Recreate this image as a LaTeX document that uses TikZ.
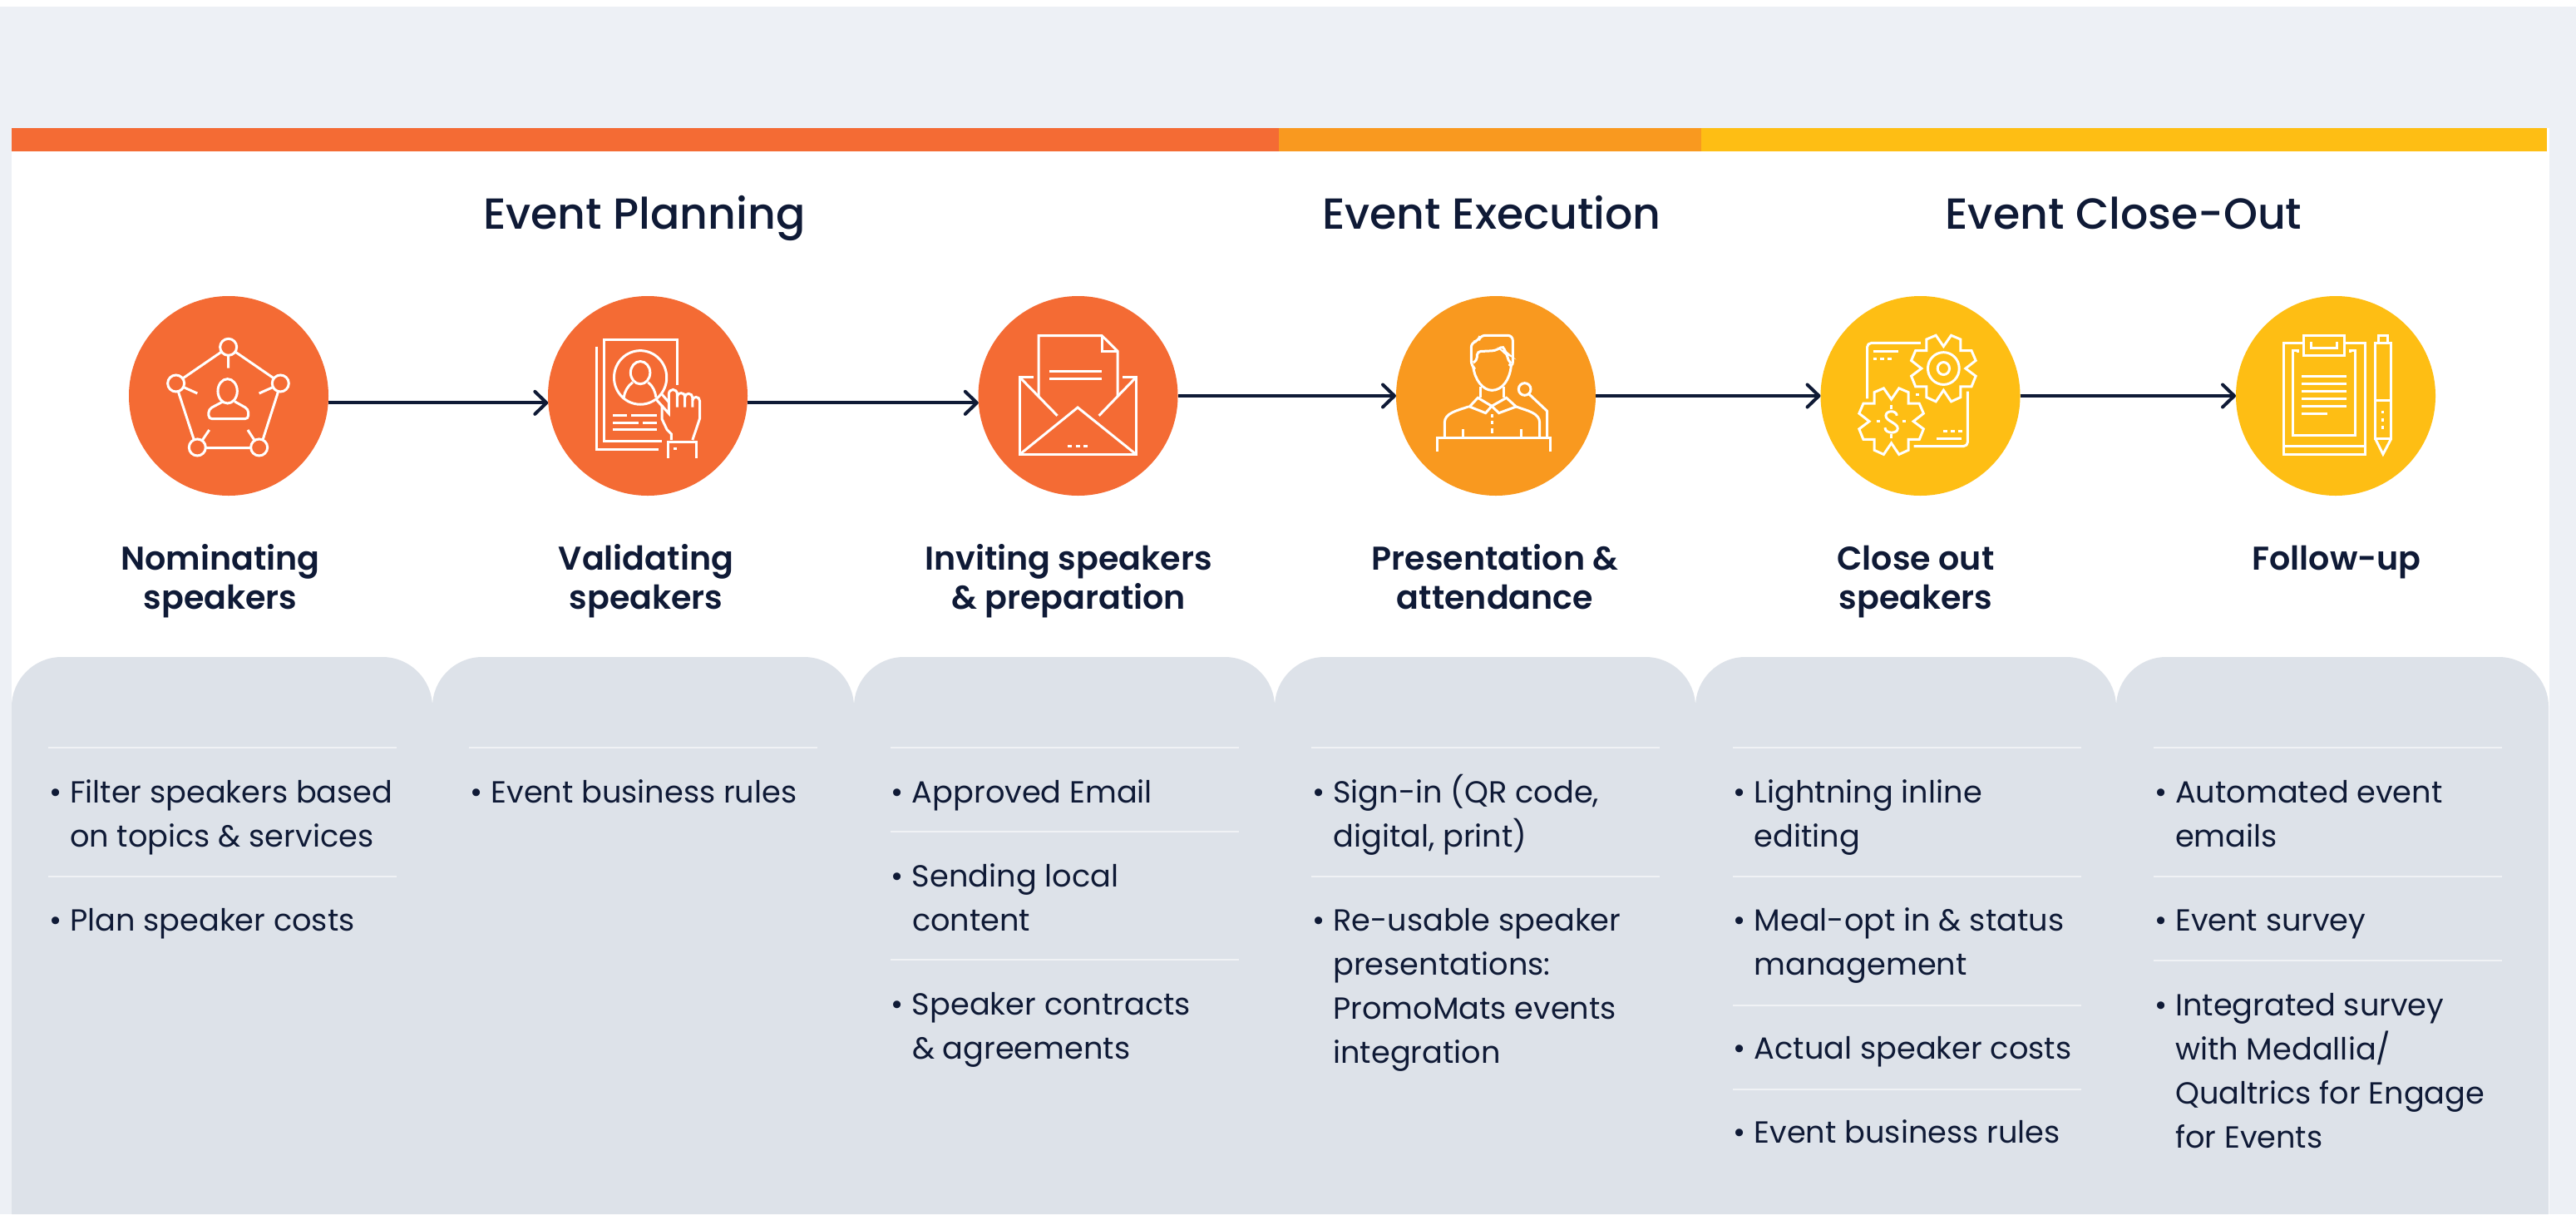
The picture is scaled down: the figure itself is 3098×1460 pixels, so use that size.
\documentclass[tikz,border=0pt]{standalone}
\usepackage{fontspec}
\usetikzlibrary{arrows.meta}
\setmainfont{Poppins}
\newfontfamily\pmed{Poppins Medium}
\newfontfamily\psemi{Poppins SemiBold}
\definecolor{inkc}{HTML}{0F1A36}
\definecolor{orangec}{HTML}{F46B34}
\definecolor{amberc}{HTML}{F9991F}
\definecolor{yellowc}{HTML}{FEBE14}
\definecolor{pagec}{HTML}{EDF0F5}
\definecolor{panelc}{HTML}{DDE2E9}
\definecolor{rulec}{HTML}{F0F2F5}
\newcommand{\ctl}[1]{\vtop{\baselineskip=47.5pt\lineskiplimit=-100pt\halign{\hfil##\hfil\cr#1\cr}}}
\newcommand{\itm}[1]{\vtop{\baselineskip=53pt\lineskiplimit=-100pt #1}}
\newcommand{\bl}[1]{\hbox{\hbox to 24pt{\hss\textbullet\hskip 10pt}#1}}
\newcommand{\cl}[1]{\hbox{\hbox to 24pt{\hss}#1}}
\newcommand{\gearpath}{(310,186)--(328,225)--(346,186)--(368,200)--(368,240)--(394,240)--(404,275)--(380,303)--(404,330)--(394,367)--(368,367)--(368,405)--(346,420)--(328,380)--(310,420)--(288,405)--(288,367)--(262,367)--(252,330)--(276,303)--(252,275)--(262,240)--(288,240)--(288,200)--cycle}
\tikzset{
  circ/.style={circle,minimum size=240pt,inner sep=0pt,outer sep=0pt},
  flow/.style={draw=inkc,line width=4pt,-{Straight Barb[length=14pt,width=27pt,line width=4pt,round]}},
  phase/.style={anchor=base,inner sep=0pt,text=inkc,font=\pmed\fontsize{52.2}{60}\selectfont},
  title/.style={anchor=base,inner sep=0pt,text=inkc,font=\psemi\fontsize{39.6}{47.5}\selectfont},
  item/.style={anchor=base west,inner sep=0pt,text=inkc,font=\fontsize{36.7}{53}\selectfont},
  sep/.style={draw=rulec,line width=2pt},
  icon/.style={draw=white,line width=3pt,line join=miter},
  zthree/.style={x=0.3333pt,y=-0.3333pt},
  zwide/.style={x=0.5102pt,y=-0.3401pt}
}
\begin{document}
\begin{tikzpicture}[x=1pt,y=-1pt]
\useasboundingbox (0,0) rectangle (3098,1460);
\fill[white] (0,0) rectangle (3098,1460);
\fill[pagec] (0,8) rectangle (3098,1460);
\fill[white] (14,154) rectangle (3066,1460);
\fill[orangec] (14,154) rectangle (1538,182);
\fill[amberc] (1538,154) rectangle (2046,182);
\fill[yellowc] (2046,154) rectangle (3063,182);

% panels
\foreach \xa/\xb in {14/520,520/1027,1027/1533,1533/2039,2039/2545,2545/3065}{
  \fill[panelc] (\xa,1460) -- (\xa,850) .. controls (\xa,817) and ({\xa+27},790) .. ({\xa+60},790) -- ({\xb-60},790) .. controls ({\xb-27},790) and (\xb,817) .. (\xb,850) -- (\xb,1460) -- cycle;
}

% separators
\foreach \k/\yy in {0/899,0/1054,1/899,2/899,2/1000,2/1154,3/899,3/1054,4/899,4/1054,4/1209,4/1310,5/899,5/1054,5/1155}{
  \draw[sep] ({58+506.4*\k},\yy) -- ({477+506.4*\k},\yy);
}

% headers
\node[phase] (h1) at (775,275) {Event Planning};
\node[phase] (h2) at (1794,275) {Event Execution};
\node[phase] (h3) at (2554,275) {Event Close-Out};

% circles
\node[circ,fill=orangec] (c1) at (275,476) {};
\node[circ,fill=orangec] (c2) at (779,476) {};
\node[circ,fill=orangec] (c3) at (1296.5,476) {};
\node[circ,fill=amberc] (c4) at (1799,476) {};
\node[circ,fill=yellowc] (c5) at (2309.5,476) {};
\node[circ,fill=yellowc] (c6) at (2809,476) {};

% connectors
\draw[flow] (c1.-4.3) -- (c2.184.3);
\draw[flow] (c2.-4.3) -- (c3.184.3);
\draw[flow] (c3.-0.5) -- (c4.180.5);
\draw[flow] (c4.-0.5) -- (c5.180.5);
\draw[flow] (c5.-0.5) -- (c6.180.5);

% icon 1
\begin{scope}[shift={(130,340)},zthree]
\draw[icon] (434,232) circle[radius=30] (245,363) circle[radius=30] (622,363) circle[radius=30] (322,594) circle[radius=30] (545,594) circle[radius=30];
\draw[icon] (408,250)--(271,344) (460,250)--(597,344) (253,392)--(310,567) (614,392)--(558,567) (352,596)--(515,596);
\draw[icon] (434,262)--(434,308) (275,378)--(322,399) (592,378)--(545,399) (340,568)--(365,531) (528,568)--(504,531);
\draw[icon] (431,391) ellipse[x radius=35,y radius=44];
\draw[icon,rounded corners=4pt] (412,430)--(363,456)--(363,491)--(506,491)--(506,456)--(456,428);
\end{scope}

% icon 2
\begin{scope}[shift={(640,340)},zwide]
\draw[icon] (152,225)--(152,590)--(298,590);
\draw[icon] (342,362)--(342,202)--(169,202)--(169,561)--(306,561);
\draw[icon] (255,335) ellipse[x radius=62,y radius=95];
\draw[icon] (255,318) ellipse[x radius=23,y radius=40];
\draw[icon] (237,352) .. controls (225,365) and (218,385) .. (216,405);
\draw[icon] (273,352) .. controls (285,365) and (290,385) .. (292,405);
\draw[icon] (292,412)--(322,462)--(322,395) .. controls (322,372) and (342,372) .. (342,395)--(342,440);
\draw[icon] (342,402) .. controls (342,386) and (360,386) .. (360,402)--(360,440);
\draw[icon] (360,404) .. controls (360,388) and (378,388) .. (378,406)--(378,440);
\draw[icon] (378,416) .. controls (378,400) and (395,400) .. (395,418)--(395,480)--(378,556);
\draw[icon] (305,393)--(322,422);
\draw[icon] (306,432)--(306,482)--(318,520)--(328,535)--(328,556);
\draw[icon] (320,620)--(320,563)--(388,563)--(388,620);
\draw[icon] (333,587)--(341,587);
\draw[icon] (190,468)--(224,468) (233,468)--(294,468) (190,494)--(250,494) (260,494)--(294,494) (190,520)--(294,520);
\end{scope}

% icon 3
\begin{scope}[shift={(640,340)},zwide]
\draw[icon] (1194,402)--(1194,187)--(1343,187)--(1380,242)--(1380,402);
\draw[icon] (1343,187)--(1343,243)--(1380,243);
\draw[icon] (1220,314)--(1343,314) (1220,341)--(1343,341);
\draw[icon] (1181,335)--(1150,335)--(1150,606)--(1423,606)--(1423,335)--(1392,335);
\draw[icon] (1150,335)--(1238,470) (1423,335)--(1336,470);
\draw[icon] (1150,606)--(1286,441)--(1423,606);
\draw[icon] (1263,578)--(1273,578) (1281,578)--(1291,578) (1299,578)--(1309,578);
\end{scope}

% icon 4
\begin{scope}[shift={(1660,340)},zthree]
\draw[icon] (205,608)--(205,561)--(615,561)--(615,608);
\draw[icon] (232,558)--(232,505) .. controls (232,470) and (275,462) .. (318,447);
\draw[icon] (575,558)--(575,505) .. controls (575,470) and (532,462) .. (490,447);
\draw[icon] (521,384) circle[radius=22];
\draw[icon] (537,402)--(602,463)--(602,558);
\draw[icon] (297,528)--(297,558) (508,528)--(508,558);
\draw[icon] (402,475)--(402,487) (402,499)--(402,511) (402,525)--(402,542);
\draw[icon] (352,415)--(402,445)--(380,470)--(322,447)--cycle;
\draw[icon] (455,415)--(402,445)--(428,470)--(490,447)--cycle;
\draw[icon] (362,375)--(362,415) (446,375)--(446,415);
\draw[icon] (335,300) .. controls (340,350) and (370,388) .. (403,388) .. controls (440,388) and (467,350) .. (472,300);
\draw[icon,rounded corners=6pt] (335,306)--(328,300)--(328,215)--(355,210)--(360,190)--(478,190)--(478,305)--(472,300);
\draw[icon,rounded corners=4pt] (335,288)--(348,282)--(350,248)--(415,245)--(445,228)--(450,252)--(458,256)--(460,280)--(472,290);
\end{scope}

% icon 5
\begin{scope}[shift={(2170,340)},zwide]
\draw[icon] \gearpath;
\begin{scope}[shift={(-123,187)}]
\draw[icon] \gearpath;
\end{scope}
\draw[icon] (328,303) ellipse[x radius=37,y radius=57];
\draw[icon] (328,303) ellipse[x radius=14,y radius=22];
\draw[icon] (218,470) .. controls (218,450) and (192,450) .. (192,470) .. controls (192,490) and (220,495) .. (220,515) .. controls (220,535) and (190,535) .. (190,512);
\draw[icon] (205,432)--(205,448) (205,535)--(205,551);
\draw[icon] (170,490)--(179,490) (231,490)--(240,490);
\draw[icon,rounded corners=5pt] (148,410)--(148,213)--(274,213);
\draw[icon] (162,242)--(222,242);
\draw[icon] (162,269)--(171,269) (179,269)--(188,269) (196,269)--(205,269) (263,396)--(271,396);
\draw[icon,rounded corners=5pt] (385,384)--(385,578)--(258,578);
\draw[icon] (311,551)--(371,551);
\draw[icon] (328,524)--(337,524) (345,524)--(354,524) (363,524)--(372,524);
\end{scope}

% icon 6
\begin{scope}[shift={(2170,340)},zwide]
\draw[icon] (1175,213)--(1130,213)--(1130,606)--(1322,606)--(1322,213)--(1275,213);
\draw[icon] (1177,186) rectangle (1273,258);
\draw[icon] (1195,210)--(1195,231)--(1255,231)--(1255,210);
\draw[icon] (1164,247)--(1164,240)--(1152,240)--(1152,540)--(1298,540)--(1298,240)--(1287,240)--(1287,247);
\draw[icon] (1130,577)--(1322,577);
\draw[icon] (1172,330)--(1277,330) (1172,357)--(1277,357) (1172,384)--(1277,384) (1172,410)--(1277,410) (1172,437)--(1277,437) (1172,464)--(1233,464);
\draw[icon] (1354,212)--(1354,186)--(1374,186)--(1374,212);
\draw[icon] (1346,552) rectangle (1383,213);
\draw[icon] (1346,417)--(1383,417);
\draw[icon] (1364,452)--(1364,463) (1364,479)--(1364,490) (1364,505)--(1364,516);
\draw[icon] (1346,552)--(1364,606)--(1383,552);
\end{scope}

% titles
\node[title] (t1) at (265,685) {\ctl{Nominating\cr speakers}};
\node[title] (t2) at (777,685) {\ctl{Validating\cr speakers}};
\node[title] (t3) at (1285,685) {\ctl{Inviting speakers\cr \& preparation}};
\node[title] (t4) at (1798,685) {\ctl{Presentation \&\cr attendance}};
\node[title] (t5) at (2304,685) {\ctl{Close out\cr speakers}};
\node[title] (t6) at (2810,685) {\ctl{Follow-up}};

% items
\node[item] (a1) at (60,965) {\itm{\bl{Filter speakers based}\cl{on topics \& services}}};
\node[item] (a2) at (60,1119) {\itm{\bl{Plan speaker costs}}};
\node[item] (b1) at (566.4,965) {\itm{\bl{Event business rules}}};
\node[item] (d1) at (1072.8,965) {\itm{\bl{Approved Email}}};
\node[item] (d2) at (1072.8,1066) {\itm{\bl{Sending local}\cl{content}}};
\node[item] (d3) at (1072.8,1220) {\itm{\bl{Speaker contracts}\cl{\& agreements}}};
\node[item] (e1) at (1579.2,965) {\itm{\bl{Sign-in (QR code,}\cl{digital, print)}}};
\node[item] (e2) at (1579.2,1119) {\itm{\bl{Re-usable speaker}\cl{presentations:}\cl{PromoMats events}\cl{integration}}};
\node[item] (f1) at (2085.6,965) {\itm{\bl{Lightning inline}\cl{editing}}};
\node[item] (f2) at (2085.6,1119) {\itm{\bl{Meal-opt in \& status}\cl{management}}};
\node[item] (f3) at (2085.6,1273) {\itm{\bl{Actual speaker costs}}};
\node[item] (f4) at (2085.6,1374) {\itm{\bl{Event business rules}}};
\node[item] (g1) at (2592,965) {\itm{\bl{Automated event}\cl{emails}}};
\node[item] (g2) at (2592,1119) {\itm{\bl{Event survey}}};
\node[item] (g3) at (2592,1221) {\itm{\bl{Integrated survey}\cl{with Medallia/}\cl{Qualtrics for Engage}\cl{for Events}}};
\end{tikzpicture}
\end{document}
